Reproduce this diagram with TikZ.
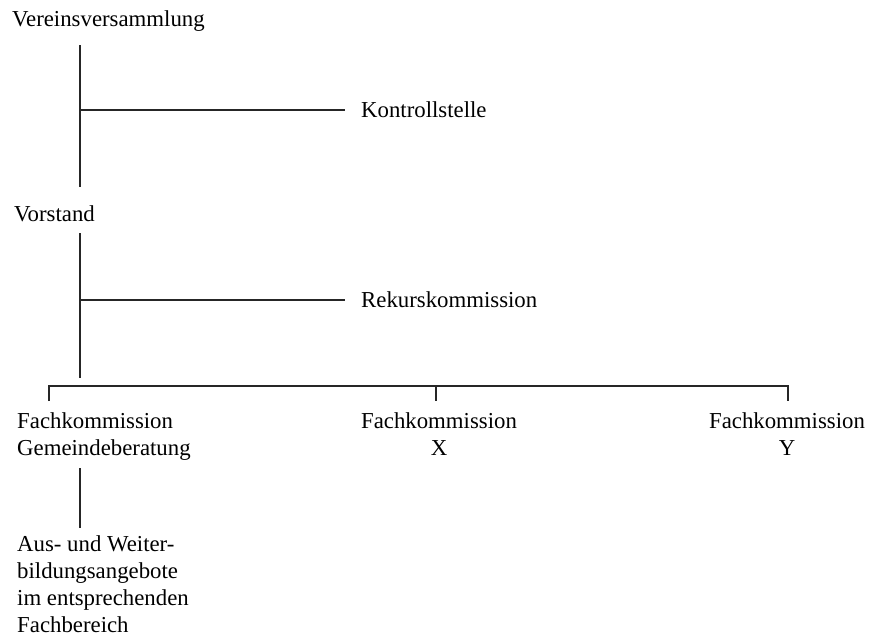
\documentclass[tikz,border=0pt]{standalone}
\usepackage{fontspec}
\setmainfont{Liberation Serif}
\begin{document}
\begin{tikzpicture}[x=1pt,y=-1pt,
  lbl/.style={inner sep=0pt,anchor=base west,font=\fontsize{22.8}{26.8}\selectfont},
  lbll/.style={lbl,align=left},
  lblc/.style={inner sep=0pt,anchor=base,align=center,font=\fontsize{22.8}{26.8}\selectfont},
  ln/.style={line width=1.2pt,black!85}]
\useasboundingbox (0,0) rectangle (876,637);
% text (multi-line nodes are placed by the baseline of their last line)
\node[lbl] (vv) at (12,26) {Vereinsversammlung};
\node[lbl] (ks) at (361,117) {Kontrollstelle};
\node[lbl] (vs) at (14,221) {Vorstand};
\node[lbl] (rk) at (361,307) {Rekurskommission};
\node[lbll] (fg) at (17,455) {Fachkommission\\Gemeindeberatung};
\node[lblc] (fx) at (439,455) {Fachkommission\\X};
\node[lblc] (fy) at (787,455) {Fachkommission\\Y};
\node[lbll] (aw) at (17,632) {Aus- und Weiter-\\bildungsangebote\\im entsprechenden\\Fachbereich};
% junctions
\coordinate (t1) at (80,45);
\coordinate (b1) at (80,187);
\coordinate (k1) at (80,110);
\coordinate (t2) at (80,233);
\coordinate (b2) at (80,378);
\coordinate (k2) at (80,300);
\coordinate (bl) at (49,386);
\coordinate (bm) at (436,386);
\coordinate (br) at (788,386);
\coordinate (t3) at (80,468);
\coordinate (b3) at (80,528);
% connectors
\draw[ln] (t1) -- (b1);
\draw[ln,shorten >=16pt] (k1) -- (k1 -| ks.west);
\draw[ln] (t2) -- (b2);
\draw[ln,shorten >=16pt] (k2) -- (k2 -| rk.west);
\draw[ln] ([yshift=-15pt]bl) -- (bl) -- (br) -- ([yshift=-15pt]br);
\draw[ln] (bm) -- ([yshift=-15pt]bm);
\draw[ln] (t3) -- (b3);
\end{tikzpicture}
\end{document}
